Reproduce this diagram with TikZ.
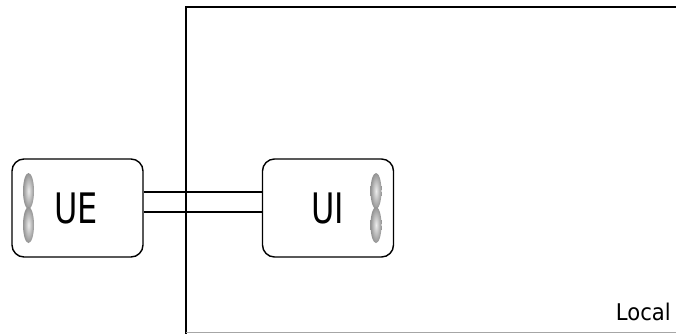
\documentclass[tikz,border=0pt]{standalone}
\usepackage{fontspec}
\setmainfont{DejaVu Sans}
\usetikzlibrary{shapes.geometric}
\begin{document}
\begin{tikzpicture}[x=1pt,y=-1pt,
  box/.style={draw=black, line width=1.4pt, rounded corners=12pt, minimum width=131pt, minimum height=98pt, inner sep=0pt, fill=white},
  bead/.style={ellipse, minimum width=11pt, minimum height=36pt, inner sep=0pt, draw=none, inner color=gray!15, outer color=gray!85},
  label/.style={inner sep=0pt, font=\fontsize{42}{42}\selectfont},
  wire/.style={line width=1.3pt}
]
\useasboundingbox (0,0) rectangle (676,333);
\draw[line width=2pt] (186,334) -- (186,7) -- (680,7);
\draw[gray!70, line width=1pt] (186,332.5) -- (680,332.5);
\node[box] (UE) at (77.5,208) {};
\node[box] (UI) at (328,208) {};
\draw[wire] ([yshift=16pt]UE.east) -- ([yshift=16pt]UI.west);
\draw[wire] ([yshift=-4pt]UE.east) -- ([yshift=-4pt]UI.west);
\node[label] (UEt) at (76,208.5) {\scalebox{0.76}[1]{UE}};
\node[label] (UIt) at (328,208.5) {\scalebox{0.76}[1]{UI}};
\node[bead] (b1) at (28.5,191) {};
\node[bead] (b2) at (28.5,225) {};
\node[bead] (b3) at (376,191) {};
\node[bead] (b4) at (376,225) {};
\node[anchor=base east, inner sep=0pt, font=\fontsize{23}{23}\selectfont] (loc) at (671,320) {\scalebox{0.92}[1]{Local}};
\end{tikzpicture}
\end{document}
